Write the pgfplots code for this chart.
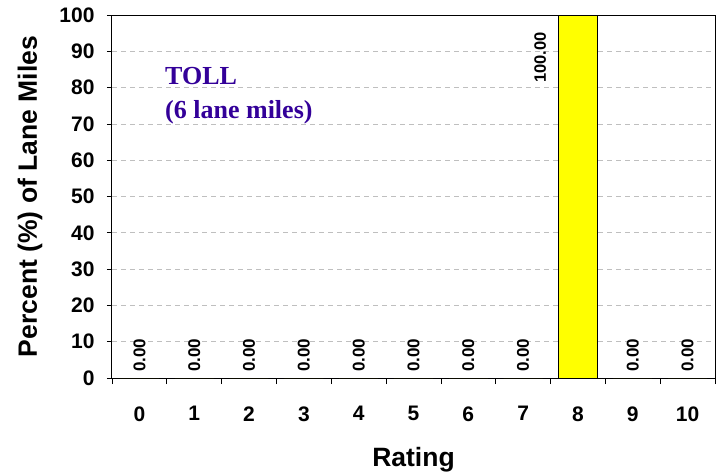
\documentclass[border=0pt]{standalone}
\usepackage{pgfplots}
\pgfplotsset{compat=1.18}
\usepackage{fontspec}
\setmainfont{Liberation Sans}
\newfontfamily\tollfont{Liberation Serif}
\definecolor{tollblue}{HTML}{330099}
\definecolor{baryellow}{HTML}{FFFF00}
\definecolor{gridgray}{HTML}{BFBFBF}

\begin{document}
\begin{tikzpicture}
\begin{axis}[
  name=ax,
  scale only axis,
  width=603pt, height=363pt,
  xmin=-0.5, xmax=10.5,
  ymin=0, ymax=100,
  xtick={0,...,10},
  minor xtick={-0.5,0.5,...,10.5},
  ytick={0,10,...,100},
  xtick pos=bottom, ytick pos=left,
  tick align=outside,
  major tick length=5pt,
  minor tick length=6pt,
  major x tick style={draw=none},
  every tick/.style={black, line width=0.8pt},
  ymajorgrids,
  major grid style={gridgray, dash pattern=on 5pt off 4pt, line width=0.7pt},
  axis line style={black, line width=1pt},
  /pgf/number format/assume math mode=true,
  ticklabel style={font=\bfseries\fontsize{21}{25}\selectfont},
  xticklabel style={yshift=-20pt},
  yticklabel style={xshift=-9pt},
  xlabel={Rating},
  ylabel={Percent (\%) of Lane Miles},
  label style={font=\bfseries\fontsize{26.5}{31}\selectfont},
  xlabel style={at={(rel axis cs:0.5,-0.224)}, anchor=center},
  ylabel style={at={(rel axis cs:-0.136,0.5)}, anchor=center},
]
\addplot[ybar, bar width=0.7, fill=baryellow, draw=black, line width=0.8pt] coordinates {
  (0,0) (1,0) (2,0) (3,0) (4,0) (5,0) (6,0) (7,0) (8,100) (9,0) (10,0)
};
\addplot[draw=none, mark=none, nodes near coords, point meta=explicit symbolic,
  nodes near coords style={font=\bfseries\fontsize{17}{20}\selectfont,
    yshift=6pt, rotate=90, anchor=west, inner sep=0pt}] coordinates {
  (0,0)[0.00] (1,0)[0.00] (2,0)[0.00] (3,0)[0.00] (4,0)[0.00] (5,0)[0.00]
  (6,0)[0.00] (7,0)[0.00] (9,0)[0.00] (10,0)[0.00]
};
\node[rotate=90, anchor=east, inner sep=0pt, font=\bfseries\fontsize{16.5}{20}\selectfont]
  at (axis cs:7.31,95.3) {100.00};
\node[anchor=north west, align=left, inner sep=0pt, text=tollblue,
  font=\tollfont\bfseries\fontsize{26}{34}\selectfont]
  at (axis cs:0.467,85.7) {TOLL\\(6 lane miles)};
\end{axis}
\pgfresetboundingbox
\path[use as bounding box] ([xshift=-112pt,yshift=-94pt]ax.south west) rectangle ([xshift=9pt,yshift=15pt]ax.north east);
\end{tikzpicture}
\end{document}
